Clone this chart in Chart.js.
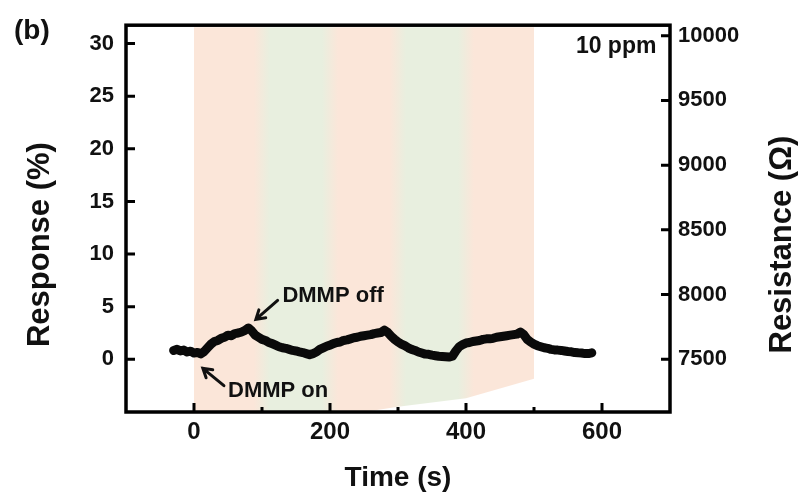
<!DOCTYPE html>
<html><head><meta charset="utf-8">
<script src="https://cdn.jsdelivr.net/npm/chart.js@4/dist/chart.umd.min.js"></script>
<style>html,body{margin:0;padding:0;background:#fff}#wrap{width:801px;height:498px;position:relative}</style>
</head><body><div id="wrap"><canvas id="c" width="801" height="498"></canvas></div>
<script>
// ---- data ----
const timeS = [-30,-25,-20,-15,-10,-5,0,5,10,15,20,25,30,35,40,45,50,55,60,65,70,75,80,85,90,95,100,105,110,115,120,125,130,135,140,145,150,155,160,165,170,175,180,185,190,195,200,205,210,215,220,225,230,235,240,245,250,255,260,265,270,275,280,285,290,295,300,305,310,315,320,325,330,335,340,345,350,355,360,365,370,375,380,385,390,395,400,405,410,415,420,425,430,435,440,445,450,455,460,465,470,475,480,485,490,495,500,505,510,515,520,525,530,535,540,545,550,555,560,565,570,575,580,585];
const responsePct = [0.85,0.95,0.80,0.88,0.70,0.78,0.60,0.66,0.52,0.75,1.10,1.45,1.70,1.80,2.00,2.10,2.30,2.25,2.45,2.50,2.60,2.75,2.98,2.70,2.30,2.10,1.90,1.80,1.60,1.50,1.35,1.20,1.10,1.05,0.95,0.85,0.80,0.72,0.65,0.55,0.45,0.55,0.70,0.95,1.10,1.25,1.35,1.50,1.60,1.65,1.80,1.85,1.95,2.05,2.10,2.20,2.25,2.30,2.35,2.45,2.50,2.55,2.78,2.55,2.20,1.90,1.65,1.45,1.30,1.10,0.95,0.85,0.70,0.60,0.50,0.48,0.40,0.35,0.30,0.28,0.25,0.22,0.30,0.80,1.20,1.40,1.55,1.60,1.70,1.75,1.80,1.90,1.95,1.95,2.00,2.10,2.15,2.20,2.25,2.30,2.35,2.40,2.60,2.35,1.90,1.65,1.45,1.30,1.20,1.10,1.05,0.95,0.90,0.88,0.85,0.80,0.75,0.72,0.65,0.62,0.60,0.55,0.55,0.62];
const xTicks = [0,100,200,300,400,500,600];
const xLabelTicks = [0,200,400,600];
const leftTicks = [0,5,10,15,20,25,30];
const rightTicks = [7500,8000,8500,9000,9500,10000];
const bandStarts = [0,100,200,300,400];
const bandEnds = [100,200,300,400,500];
const bandColors = ['#fbe6d9','#e8efdf','#fbe6d9','#e8efdf','#fbe6d9'];
const shadeFloorT = [0,250,300,400,500];
const shadeFloorV = [-5,-5,-4.5,-3.7,-1.85];
// ---- annotations ----
const notes = [
  {text:'DMMP off', t:130, v:5.45, align:'left', tail:[123,5.6], head:[91,3.8]},
  {text:'DMMP on', t:50, v:-3.6, align:'left', tail:[44,-2.5], head:[13,-0.85]},
  {text:'10 ppm', t:680, v:29.1, align:'right'}
];

const FONT = "'Liberation Sans', Arial, Helvetica, sans-serif";

const decor = {
  id:'decor',
  beforeDatasetsDraw(chart){
    const {ctx, chartArea:a, scales:{x,y}} = chart;
    ctx.save();
    ctx.beginPath(); ctx.rect(a.left,a.top,a.right-a.left,a.bottom-a.top); ctx.clip();
    const x0 = x.getPixelForValue(bandStarts[0]);
    const x1 = x.getPixelForValue(bandEnds[bandEnds.length-1]);
    const g = ctx.createLinearGradient(x0,0,x1,0);
    const span = bandEnds[bandEnds.length-1]-bandStarts[0];
    bandStarts.forEach((s,i)=>{
      g.addColorStop(Math.max(0,(s+12-bandStarts[0])/span), bandColors[i]);
      g.addColorStop(Math.min(1,(bandEnds[i]-12-bandStarts[0])/span), bandColors[i]);
    });
    ctx.fillStyle = g;
    ctx.beginPath();
    ctx.moveTo(x0, a.top+2);
    ctx.lineTo(x1, a.top+2);
    for(let i=shadeFloorT.length-1;i>=0;i--){
      ctx.lineTo(x.getPixelForValue(shadeFloorT[i]), y.getPixelForValue(shadeFloorV[i]));
    }
    ctx.closePath();
    ctx.fill();
    ctx.restore();
  },
  afterDatasetsDraw(chart){
    const {ctx, chartArea:a, scales:{x,y,y2}} = chart;
    ctx.save();
    // frame
    ctx.strokeStyle='#000'; ctx.lineWidth=3.5;
    ctx.strokeRect(a.left,a.top,a.right-a.left,a.bottom-a.top);
    // inward ticks
    ctx.lineWidth=3;
    ctx.beginPath();
    xTicks.forEach(v=>{
      const px=x.getPixelForValue(v); const len = xLabelTicks.includes(v)?9:5;
      ctx.moveTo(px,a.bottom); ctx.lineTo(px,a.bottom-len);
    });
    leftTicks.forEach(v=>{
      const py=y.getPixelForValue(v);
      ctx.moveTo(a.left,py); ctx.lineTo(a.left+9,py);
    });
    rightTicks.forEach(v=>{
      const py=y2.getPixelForValue(v);
      ctx.moveTo(a.right,py); ctx.lineTo(a.right-9,py);
    });
    ctx.stroke();
    // annotations
    ctx.fillStyle='#111';
    ctx.textBaseline='alphabetic';
    notes.forEach(n=>{
      ctx.font = "bold "+(n.text==='10 ppm'?23:22)+"px "+FONT;
      ctx.textAlign=n.align;
      ctx.fillText(n.text, x.getPixelForValue(n.t), y.getPixelForValue(n.v));
      if(n.tail){
        const tx=x.getPixelForValue(n.tail[0]), ty=y.getPixelForValue(n.tail[1]);
        const hx=x.getPixelForValue(n.head[0]), hy=y.getPixelForValue(n.head[1]);
        const ang=Math.atan2(hy-ty,hx-tx);
        ctx.lineWidth=3; ctx.strokeStyle='#111'; ctx.lineCap='round';
        ctx.beginPath(); ctx.moveTo(tx,ty); ctx.lineTo(hx,hy);
        ctx.moveTo(hx-10*Math.cos(ang-0.55),hy-10*Math.sin(ang-0.55)); ctx.lineTo(hx,hy);
        ctx.lineTo(hx-10*Math.cos(ang+0.55),hy-10*Math.sin(ang+0.55));
        ctx.stroke();
      }
    });
    // vertical axis titles (both read bottom-to-top)
    const midY = (a.top+a.bottom)/2 + 26;
    ctx.font="bold 31px "+FONT; ctx.textAlign='center'; ctx.textBaseline='middle'; ctx.fillStyle='#111';
    [[y.left+40,'Response (%)'],[y2.right-19,'Resistance (\u03A9)']].forEach(([cx,t])=>{
      ctx.save(); ctx.translate(cx,midY); ctx.rotate(-Math.PI/2); ctx.fillText(t,0,0); ctx.restore();
    });
    // panel label
    ctx.font="bold 28px "+FONT; ctx.textAlign='left'; ctx.textBaseline='middle';
    ctx.fillText('(b)', 14, 31);
    ctx.restore();
  }
};

new Chart(document.getElementById('c'), {
  type:'line',
  data:{ datasets:[{
    data: timeS.map((t,i)=>({x:t,y:responsePct[i]})),
    borderColor:'#0a0a0a', borderWidth:9, pointRadius:0, tension:0,
    borderJoinStyle:'round', borderCapStyle:'round', yAxisID:'y'
  }]},
  options:{
    responsive:false, animation:false, devicePixelRatio:1,
    layout:{padding:{top:14,left:0,right:0,bottom:0}},
    plugins:{legend:{display:false}, tooltip:{enabled:false}},
    scales:{
      x:{type:'linear', position:'bottom', min:-100, max:700,
        grid:{display:false, drawTicks:false}, border:{display:false},
        afterBuildTicks:s=>{s.ticks=xTicks.map(v=>({value:v}));},
        ticks:{color:'#111', font:{family:FONT, size:24, weight:'bold'}, padding:6, maxRotation:0, autoSkip:false,
          callback:v=>xLabelTicks.includes(v)?String(v):''},
        title:{display:true, text:'Time (s)', color:'#111', font:{family:FONT, size:28, weight:'bold'}, padding:{top:0,bottom:3}},
        afterFit:s=>{s.height=86;}
      },
      y:{type:'linear', position:'left', min:-5, max:31.75,
        grid:{display:false, drawTicks:false}, border:{display:false},
        afterBuildTicks:s=>{s.ticks=leftTicks.map(v=>({value:v}));},
        ticks:{color:'#111', font:{family:FONT, size:22, weight:'bold'}, padding:12, callback:v=>String(v)},
        afterFit:s=>{s.width=126;}
      },
      y2:{type:'linear', position:'right', min:7093, max:10081,
        grid:{display:false, drawTicks:false}, border:{display:false},
        afterBuildTicks:s=>{s.ticks=rightTicks.map(v=>({value:v}));},
        ticks:{color:'#111', font:{family:FONT, size:22, weight:'bold'}, padding:8, callback:v=>String(v)},
        afterFit:s=>{s.width=131;}
      }
    }
  },
  plugins:[decor]
});
</script></body></html>
